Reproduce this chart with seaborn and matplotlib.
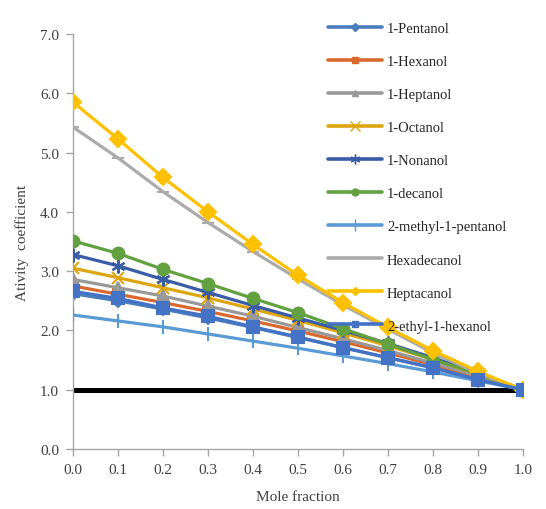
import numpy as np
import pandas as pd

import matplotlib
matplotlib.use("Agg")
import matplotlib.pyplot as plt
from matplotlib.lines import Line2D
import seaborn as sns

x = [0.0, 0.1, 0.2, 0.3, 0.4, 0.5, 0.6, 0.7, 0.8, 0.9, 1.0]

pentanol = [2.62, 2.50, 2.36, 2.21, 2.05, 1.88, 1.71, 1.54, 1.37, 1.18, 1.0]
hexanol = [2.75, 2.61, 2.47, 2.32, 2.16, 1.99, 1.81, 1.62, 1.42, 1.21, 1.0]
heptanol = [2.86, 2.72, 2.58, 2.41, 2.24, 2.05, 1.86, 1.66, 1.45, 1.23, 1.0]
octanol = [3.05, 2.89, 2.72, 2.55, 2.36, 2.17, 1.96, 1.74, 1.51, 1.26, 1.0]
nonanol = [3.28, 3.09, 2.86, 2.64, 2.42, 2.21, 2.00, 1.78, 1.54, 1.28, 1.0]
decanol = [3.51, 3.30, 3.03, 2.79, 2.54, 2.30, 2.03, 1.77, 1.51, 1.27, 1.0]
methylpentanol = [2.26, 2.16, 2.06, 1.94, 1.82, 1.70, 1.57, 1.44, 1.30, 1.15, 1.0]
hexadecanol = [5.43, 4.91, 4.34, 3.82, 3.33, 2.87, 2.43, 2.02, 1.62, 1.28, 1.0]
heptacanol = [5.85, 5.23, 4.58, 4.00, 3.45, 2.93, 2.47, 2.05, 1.66, 1.31, 1.0]
ethylhexanol = [2.66, 2.54, 2.38, 2.24, 2.06, 1.89, 1.71, 1.54, 1.37, 1.17, 1.0]
ideal = [1.0] * 11

names = ["1-Pentanol", "1-Hexanol", "1-Heptanol", "1-Octanol", "1-Nonanol",
         "1-decanol", "2-methyl-1-pentanol", "Hexadecanol", "Heptacanol",
         "2-ethyl-1-hexanol"]
series = [pentanol, hexanol, heptanol, octanol, nonanol, decanol,
          methylpentanol, hexadecanol, heptacanol, ethylhexanol]

colors = ["#4A7EBB", "#D9692E", "#999999", "#DDA60F", "#3A5BA6",
          "#62A040", "#5B9BD5", "#ABABAB", "#FFC000", "#4472C4"]
markers = ["D", "s", "^", "x", (6, 2, 0), "o", "|", "_", "D", "s"]
msizes = [6, 7, 8, 8, 10, 8.5, 10, 8, 8.5, 9]
legend_msizes = [4, 5, 5, 7, 7, 5, 8, 0, 4, 5]

df = pd.DataFrame({"x": x * len(names),
                   "y": np.concatenate(series),
                   "name": np.repeat(names, len(x))})

sns.set_style("white")
plt.rcParams["font.family"] = ["Liberation Serif", "DejaVu Serif"]

fig = plt.figure(figsize=(5.46, 5.10), dpi=100)
ax = fig.add_axes([73 / 546, 60 / 510, (523 - 73) / 546, (450 - 35) / 510])

sns.lineplot(x=x, y=ideal, ax=ax, color="black", linewidth=3.6, zorder=1)

for i, n in enumerate(names):
    sub = df[df["name"] == n]
    sns.lineplot(data=sub, x="x", y="y", ax=ax, color=colors[i], linewidth=2.3,
                 marker=markers[i], markersize=msizes[i], markeredgewidth=1.5,
                 markeredgecolor=colors[i], zorder=2 + i)

ax.set_xlim(0, 1.0)
ax.set_ylim(0, 7.0)
ax.set_xticks(np.arange(0, 1.01, 0.1))
ax.set_yticks(np.arange(0, 7.01, 1.0))
ax.set_xticklabels([f"{v:.1f}" for v in np.arange(0, 1.01, 0.1)])
ax.set_yticklabels([f"{v:.1f}" for v in np.arange(0, 7.01, 1.0)])
ax.tick_params(axis="both", labelsize=11, colors="#A6A6A6", length=5,
               width=1, direction="out", bottom=True, left=True, pad=5)
ax.tick_params(axis="both", labelcolor="#404040")
for s in ["top", "right"]:
    ax.spines[s].set_visible(False)
for s in ["left", "bottom"]:
    ax.spines[s].set_color("#A6A6A6")
    ax.spines[s].set_linewidth(1)
ax.set_xlabel("Mole fraction", fontsize=11, color="#404040", labelpad=10)
ax.set_ylabel("Ativity  coefficient", fontsize=11, color="#404040", labelpad=8)

# legend proxies with small markers, like the reference
handles = [Line2D([], [], color=colors[i], linewidth=2.6, marker=markers[i],
                  markersize=legend_msizes[i], markeredgewidth=1,
                  markeredgecolor=colors[i])
           for i in range(len(names))]
fig.legend(handles, names, loc="upper left",
           bbox_to_anchor=(328 / 546, 1 - 23 / 510), frameon=False,
           fontsize=10.5, handlelength=3.7, handletextpad=0.35,
           labelspacing=1.36, borderpad=0, borderaxespad=0)

fig.savefig("out.png", dpi=100)
